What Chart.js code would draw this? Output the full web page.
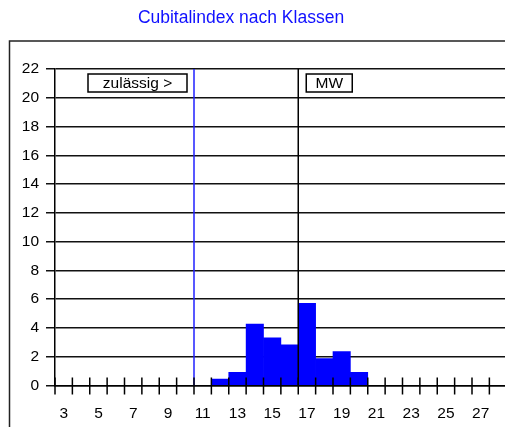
<!DOCTYPE html>
<html>
<head>
<meta charset="utf-8">
<script src="https://cdn.jsdelivr.net/npm/chart.js@4.4.0/dist/chart.umd.min.js"></script>
<style>
  body { margin: 0; background: #fff; }
  #wrap { width: 505px; height: 427px; position: relative; }
</style>
</head>
<body>
<div id="wrap"><canvas id="myChart"></canvas></div>
<script>
// Klassen (Cubitalindex) und Anzahl je Klasse
var classes = [3, 4, 5, 6, 7, 8, 9, 10, 11, 12, 13, 14, 15, 16, 17, 18, 19, 20, 21, 22, 23, 24, 25, 26, 27];
var counts  = [0, 0, 0, 0, 0, 0, 0, 0, 0, 0.45, 0.91, 4.27, 3.31, 2.83, 5.71, 1.87, 2.36, 0.91, 0, 0, 0, 0, 0, 0, 0];
var xTickLabels = [3, 5, 7, 9, 11, 13, 15, 17, 19, 21, 23, 25, 27];
var yTicks = [0, 2, 4, 6, 8, 10, 12, 14, 16, 18, 20, 22];
var limitValue = 10.5;   // zulässig >
var meanValue = 16.5;    // MW
var chartTitle = "Cubitalindex nach Klassen";
var limitLabel = "zulässig >";
var meanLabel = "MW";

var barData = [];
classes.forEach(function (c, i) {
  if (counts[i] > 0) barData.push({ x: c, y: counts[i] });
});

// class boundaries for the tick marks on the x axis
var boundaries = [];
for (var i = 0; i <= classes.length; i++) {
  boundaries.push(classes[0] - 0.5 + i);
}

var FONT = "'Liberation Sans', Arial, sans-serif";

var extras = {
  id: "extras",
  beforeDraw: function (chart) {
    var ctx = chart.ctx;
    ctx.save();
    ctx.fillStyle = "#fff";
    ctx.fillRect(0, 0, chart.width, chart.height);
    // frame
    ctx.strokeStyle = "#222";
    ctx.lineWidth = 1.5;
    ctx.beginPath();
    ctx.moveTo(9.5, chart.height);
    ctx.lineTo(9.5, 41);
    ctx.lineTo(chart.width, 41);
    ctx.stroke();
    // title
    ctx.fillStyle = "#1010ff";
    ctx.font = "17.5px " + FONT;
    ctx.textAlign = "center";
    ctx.textBaseline = "middle";
    ctx.fillText(chartTitle, 241, 18);
    ctx.restore();
  },
  afterDraw: function (chart) {
    var ctx = chart.ctx;
    var xs = chart.scales.x, ys = chart.scales.y;
    var y0 = ys.getPixelForValue(0);
    ctx.save();
    // x tick marks crossing the axis
    ctx.strokeStyle = "#000";
    ctx.lineWidth = 1.5;
    ctx.beginPath();
    boundaries.forEach(function (b) {
      var px = xs.getPixelForValue(b);
      ctx.moveTo(px, y0 - 8);
      ctx.lineTo(px, y0 + 9);
    });
    ctx.stroke();
    // label boxes
    ctx.font = "15.5px " + FONT;
    ctx.textAlign = "center";
    ctx.textBaseline = "middle";
    var top = ys.getPixelForValue(22) + 5;
    var h = 18;
    var lx = xs.getPixelForValue(limitValue);
    var mx = xs.getPixelForValue(meanValue);
    [[lx - 106, 99, limitLabel], [mx + 8, 46, meanLabel]].forEach(function (b) {
      ctx.fillStyle = "#fff";
      ctx.fillRect(b[0], top, b[1], h);
      ctx.strokeStyle = "#000";
      ctx.lineWidth = 1.5;
      ctx.strokeRect(b[0], top, b[1], h);
      ctx.fillStyle = "#000";
      ctx.fillText(b[2], b[0] + b[1] / 2, top + h / 2 + 1);
    });
    ctx.restore();
  }
};

new Chart("myChart", {
  data: {
    datasets: [
      {
        type: "line",
        data: [{ x: limitValue, y: 0 }, { x: limitValue, y: 22 }],
        borderColor: "#2020ff",
        borderWidth: 1.5,
        pointRadius: 0,
        order: 0
      },
      {
        type: "line",
        data: [{ x: meanValue, y: 0 }, { x: meanValue, y: 22 }],
        borderColor: "#000",
        borderWidth: 1.5,
        pointRadius: 0,
        order: 0
      },
      {
        type: "bar",
        data: barData,
        backgroundColor: "#0000ff",
        borderWidth: 0,
        barPercentage: 1,
        categoryPercentage: 1,
        order: 1
      }
    ]
  },
  plugins: [extras],
  options: {
    responsive: true,
    maintainAspectRatio: false,
    animation: false,
    layout: { padding: { left: 9, top: 69, right: 0, bottom: 0 } },
    plugins: {
      legend: { display: false },
      tooltip: { enabled: false },
      title: { display: false }
    },
    scales: {
      x: {
        type: "linear",
        offset: false,
        min: classes[0] - 0.5,
        max: classes[0] - 0.5 + 450 / 17.375,
        grid: { display: false, offset: false },
        border: { display: true, color: "#000", width: 1.5 },
        afterBuildTicks: function (s) {
          s.ticks = xTickLabels.map(function (v) { return { value: v }; });
        },
        afterFit: function (s) {
          s.height = 41.5;
          s.paddingLeft = 0;
          s.paddingRight = 0;
        },
        ticks: {
          color: "#000",
          font: { family: FONT, size: 15.5 },
          padding: 11,
          maxRotation: 0,
          autoSkip: false
        }
      },
      y: {
        min: 0,
        max: 22,
        afterBuildTicks: function (s) {
          s.ticks = yTicks.map(function (v) { return { value: v }; });
        },
        afterFit: function (s) { s.width = 46; },
        grid: { color: "#111", lineWidth: 1.5, tickLength: 9 },
        border: { display: true, color: "#000", width: 1.5 },
        ticks: {
          color: "#000",
          font: { family: FONT, size: 15.5 },
          padding: 7
        }
      }
    }
  }
});
</script>
</body>
</html>
